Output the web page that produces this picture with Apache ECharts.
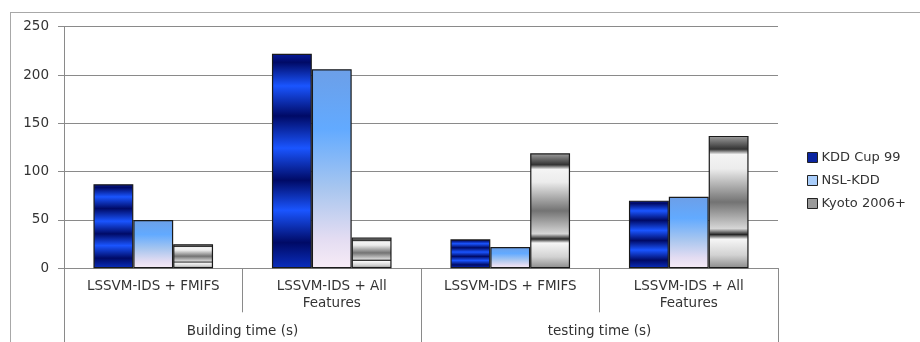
<!DOCTYPE html>
<html>
<head>
<meta charset="utf-8">
<script src="https://cdn.jsdelivr.net/npm/echarts@6/dist/echarts.min.js"></script>
<style>html,body{margin:0;padding:0;background:#fff;}#c{width:920px;height:342px;}</style>
</head>
<body>
<div id="c"></div>
<script>
const categories = ['LSSVM-IDS + FMIFS', 'LSSVM-IDS + All\nFeatures', 'LSSVM-IDS + FMIFS', 'LSSVM-IDS + All\nFeatures'];
const groups = ['Building time (s)', 'testing time (s)'];
const seriesNames = ['KDD Cup 99', 'NSL-KDD', 'Kyoto 2006+'];
const kdd = [87, 222, 30, 70];
const nsl = [50, 206, 22, 74];
const kyoto = [25, 32, 119, 137];
const yMin = 0, yMax = 250, yStep = 50;

function grad(stops) {
  return new echarts.graphic.LinearGradient(0, 0, 0, 1, stops.map(s => ({offset: s[0], color: s[1]})));
}
const kddFill = grad([[0,'#061a9a'],[0.04,'#000a66'],[0.15,'#1a55ff'],[0.29,'#000a66'],[0.44,'#1a55ff'],[0.59,'#000a66'],[0.73,'#1a55ff'],[0.88,'#000a66'],[1,'#0a2fc0']]);
const nslFill = grad([[0,'#6c9fe8'],[0.3,'#62aaff'],[0.6,'#a8c6ef'],[0.85,'#e3dcf2'],[1,'#f7ecf6']]);
const kyoFill = grad([[0,'#a0a0a0'],[0.1,'#333333'],[0.14,'#f4f4f4'],[0.25,'#ececec'],[0.5,'#737373'],[0.7,'#d6d6d6'],[0.745,'#262626'],[0.78,'#f6f6f6'],[0.9,'#d2d2d2'],[1,'#8a8a8a']]);
const border = {borderColor: '#1a1a1a', borderWidth: 1.2};
const axisColor = '#8a8a8a';
const font = 'DejaVu Sans';

const chart = echarts.init(document.getElementById('c'), null, {renderer: 'canvas'});
chart.setOption({
  animation: false,
  backgroundColor: '#fff',
  textStyle: {fontFamily: font},
  grid: {left: 64, right: 142, top: 26.7, bottom: 73.7, containLabel: false},
  legend: {
    orient: 'vertical', left: 802, top: 146, itemWidth: 10, itemHeight: 10, itemGap: 10,
    icon: 'rect',
    textStyle: {fontFamily: font, fontSize: 13, color: '#333', padding: [0,0,0,-1]},
    data: [
      {name: seriesNames[0], itemStyle: {color: '#0a24a0', borderColor: '#222', borderWidth: 1}},
      {name: seriesNames[1], itemStyle: {color: '#a9cdfa', borderColor: '#222', borderWidth: 1}},
      {name: seriesNames[2], itemStyle: {color: '#9a9a9a', borderColor: '#222', borderWidth: 1}}
    ]
  },
  xAxis: [
    {
      type: 'category', data: categories, position: 'bottom',
      axisLine: {lineStyle: {color: axisColor, width: 1}},
      axisTick: {show: true, interval: 0, length: 44, lineStyle: {color: axisColor}},
      axisLabel: {interval: 0, margin: 10, fontFamily: font, fontSize: 13.5, color: '#333', lineHeight: 17}
    },
    {
      type: 'category', data: groups, position: 'bottom', offset: 0,
      axisLine: {show: false},
      axisTick: {show: true, interval: 0, length: 74, lineStyle: {color: axisColor}},
      axisLabel: {interval: 0, margin: 56, fontFamily: font, fontSize: 13.5, color: '#333', lineHeight: 15}
    }
  ],
  yAxis: {
    type: 'value', min: yMin, max: yMax, interval: yStep,
    axisLine: {show: true, lineStyle: {color: axisColor}},
    axisTick: {show: true, length: 6, lineStyle: {color: axisColor}},
    axisLabel: {margin: 15, fontFamily: font, fontSize: 13.5, color: '#333'},
    splitLine: {lineStyle: {color: axisColor, width: 1}}
  },
  series: [
    {name: seriesNames[0], type: 'bar', data: kdd, barGap: '0%', barCategoryGap: '33%', itemStyle: Object.assign({color: kddFill}, border)},
    {name: seriesNames[1], type: 'bar', data: nsl, barGap: '0%', barCategoryGap: '33%', itemStyle: Object.assign({color: nslFill}, border)},
    {name: seriesNames[2], type: 'bar', data: kyoto, barGap: '0%', barCategoryGap: '33%', itemStyle: Object.assign({color: kyoFill}, border)}
  ],
  graphic: [
    {type: 'line', shape: {x1: 10, y1: 12.5, x2: 920, y2: 12.5}, style: {stroke: '#a8a8a8', lineWidth: 1}, silent: true},
    {type: 'line', shape: {x1: 10.5, y1: 12, x2: 10.5, y2: 342}, style: {stroke: '#a8a8a8', lineWidth: 1}, silent: true}
  ]
});
</script>
</body>
</html>
